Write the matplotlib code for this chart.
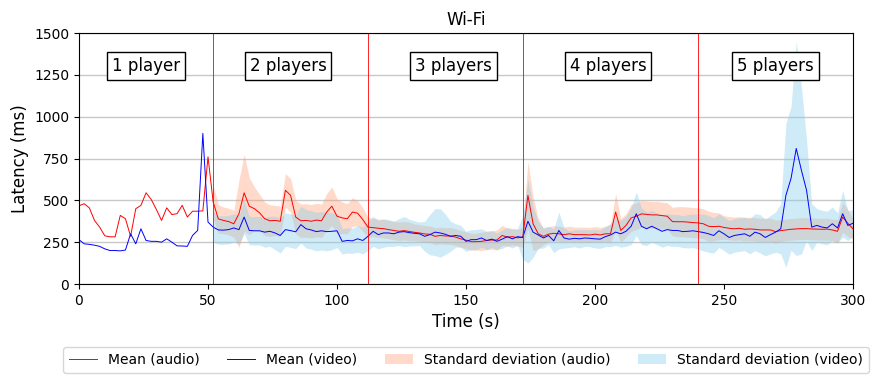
import numpy as np
import matplotlib
matplotlib.use("Agg")
import matplotlib.pyplot as plt

# time axis (s), 2 s sampling
time_s = np.arange(0, 301, 2)

audio_mean = [
    467, 480, 455, 380, 340, 288, 282, 282, 410, 390,
    285, 450, 470, 545, 505, 445, 380, 455, 415, 420,
    470, 400, 435, 435, 437, 760, 490, 389, 380, 373,
    360, 420, 545, 465, 450, 425, 390, 378, 380, 375,
    560, 530, 400, 378, 380, 375, 382, 378, 430, 465,
    405, 395, 390, 430, 423, 385, 340, 337, 333, 331,
    325, 320, 315, 319, 314, 309, 305, 299, 297, 285,
    290, 287, 287, 280, 270, 262, 253, 253, 255, 260,
    263, 263, 290, 280, 283, 276, 280, 530, 360, 300,
    285, 298, 303, 300, 295, 300, 295, 295, 295, 293,
    298, 293, 300, 300, 430, 320, 350, 395, 405, 419,
    416, 413, 413, 409, 405, 373, 372, 372, 370, 367,
    365, 360, 345, 343, 345, 338, 333, 330, 333, 327,
    329, 327, 323, 323, 323, 313, 319, 323, 327, 329,
    331, 331, 329, 328, 327, 328, 323, 315, 400, 363,
    330,
]

video_mean = [
    265, 240, 237, 232, 225, 210, 200, 200, 198, 203,
    300, 240, 330, 260, 255, 255, 250, 270, 250, 228,
    227, 225, 290, 320, 900, 370, 340, 323, 322, 325,
    335, 325, 400, 320, 318, 318, 310, 315, 305, 290,
    325, 319, 312, 355, 330, 323, 313, 318, 313, 315,
    318, 255, 260, 258, 270, 260, 285, 315, 295, 305,
    305, 300, 310, 313, 307, 303, 300, 285, 295, 310,
    305, 297, 285, 290, 285, 255, 265, 265, 275, 260,
    268, 255, 268, 283, 270, 283, 278, 375, 310, 293,
    275, 290, 258, 320, 275, 268, 273, 270, 275, 273,
    270, 268, 283, 293, 310, 300, 315, 345, 420, 345,
    330, 345, 330, 315, 325, 320, 320, 313, 315, 318,
    313, 308, 300, 290, 318, 300, 278, 290, 295, 300,
    285, 310, 300, 278, 295, 310, 330, 530, 632, 810,
    680, 560, 340, 350, 340, 335, 360, 335, 420, 350,
    363,
]

# standard deviations from t = 52 s onwards
band_start = 52
audio_std = [
    100, 85, 80, 80, 80, 200, 230, 170, 130, 110,
    100, 95, 90, 90, 100, 100, 100, 100, 100, 100,
    100, 100, 110, 115, 105, 95, 90, 85, 75, 70,
    60, 55, 55, 55, 55, 55, 55, 55, 55, 50,
    50, 50, 50, 50, 50, 50, 50, 50, 50, 50,
    50, 50, 55, 55, 55, 60, 60, 55, 50, 50,
    60, 200, 160, 90, 50, 45, 45, 45, 45, 45,
    45, 45, 45, 45, 45, 45, 45, 55, 110, 70,
    70, 80, 80, 80, 80, 80, 80, 80, 80, 85,
    90, 90, 90, 90, 90, 90, 90, 85, 80, 70,
    70, 70, 70, 70, 70, 70, 70, 70, 70, 70,
    65, 65, 65, 65, 65, 65, 65, 65, 65, 65,
    65, 70, 90, 80, 60,
]
video_std = [
    90, 85, 85, 85, 85, 85, 100, 85, 85, 85,
    90, 90, 100, 105, 100, 100, 100, 110, 115, 115,
    115, 115, 115, 110, 100, 75, 75, 75, 80, 80,
    85, 90, 85, 85, 80, 75, 80, 90, 80, 75,
    70, 90, 120, 140, 145, 120, 90, 70, 65, 60,
    60, 60, 55, 55, 50, 50, 55, 55, 55, 50,
    130, 250, 150, 80, 60, 55, 70, 110, 60, 50,
    50, 55, 50, 50, 55, 55, 60, 70, 80, 80,
    90, 110, 130, 110, 100, 95, 95, 95, 95, 95,
    95, 95, 100, 100, 105, 110, 110, 105, 100, 100,
    100, 100, 100, 100, 105, 110, 115, 110, 115, 120,
    150, 430, 430, 640, 500, 300, 140, 100, 100, 100,
    100, 90, 140, 90, 80,
]

phase_bounds = [52, 112, 172, 240]
phase_labels = ["1 player", "2 players", "3 players", "4 players", "5 players"]
phase_label_x = [26, 81, 145, 205, 270]

audio_mean = np.array(audio_mean, float)
video_mean = np.array(video_mean, float)
audio_std = np.array(audio_std, float)
video_std = np.array(video_std, float)
idx0 = int(np.searchsorted(time_s, band_start))
tb = time_s[idx0:]

fig = plt.figure(figsize=(8.78, 3.76), dpi=100)
ax = fig.add_axes([79 / 878, 1 - 284 / 376, 774 / 878, 251 / 376])

ax.yaxis.grid(True, color="#c8c8c8", linewidth=1.0)
ax.set_axisbelow(True)

ax.fill_between(tb, audio_mean[idx0:] - audio_std, audio_mean[idx0:] + audio_std,
                color="lightsalmon", alpha=0.4, linewidth=0,
                label="Standard deviation (audio)")
ax.fill_between(tb, video_mean[idx0:] - video_std, video_mean[idx0:] + video_std,
                color="skyblue", alpha=0.4, linewidth=0,
                label="Standard deviation (video)")
ax.plot(time_s, audio_mean, color="red", linewidth=0.7, label="Mean (audio)")
ax.plot(time_s, video_mean, color="blue", linewidth=0.7, label="Mean (video)")

for b in phase_bounds:
    ax.axvline(b, color="red", linewidth=0.6)

for lx, lab in zip(phase_label_x, phase_labels):
    ax.text(lx, 1300, lab, fontsize=12, ha="center", va="center",
            bbox=dict(boxstyle="square,pad=0.3", facecolor="white", edgecolor="black"))

ax.set_xlim(0, 300)
ax.set_ylim(0, 1500)
ax.set_xticks(np.arange(0, 301, 50))
ax.set_yticks(np.arange(0, 1501, 250))
ax.set_title("Wi-Fi", fontsize=12)
ax.set_xlabel("Time (s)", fontsize=12)
ax.set_ylabel("Latency (ms)", fontsize=12)

h, l = ax.get_legend_handles_labels()
order = [2, 3, 0, 1]
ax.legend([h[i] for i in order], [l[i] for i in order], loc="upper center",
          bbox_to_anchor=(0.5, -0.225), ncol=4, fontsize=10, frameon=True)

fig.savefig("out.png", dpi=100)
